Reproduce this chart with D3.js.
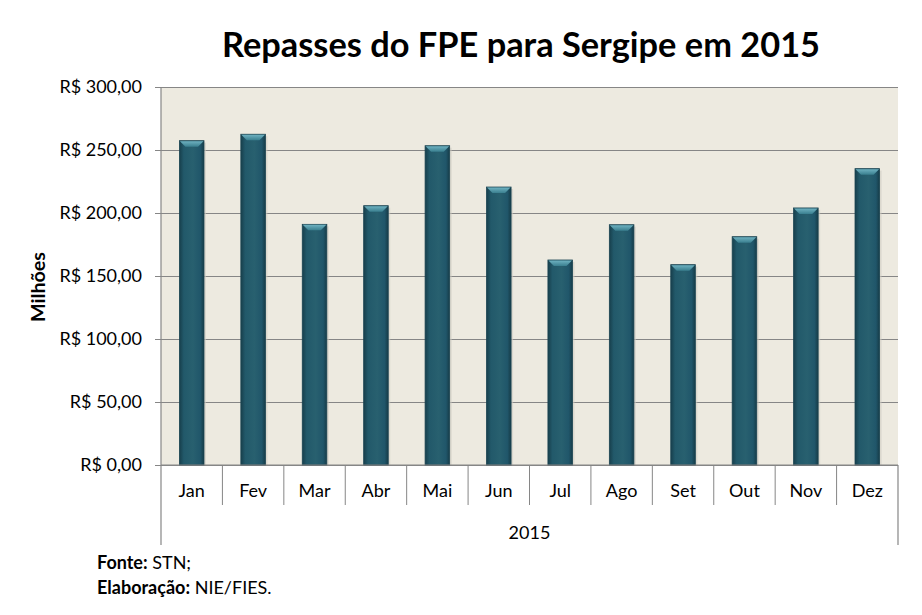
<!DOCTYPE html>
<html>
<head>
<meta charset="utf-8">
<script src="https://cdn.jsdelivr.net/npm/d3@7"></script>
<style>
  body { margin: 0; background: #fff; }
  text { font-family: Lato, "Open Sans", sans-serif; fill: #000; }
</style>
</head>
<body>
<div id="chart"></div>
<script>
// data (R$ millions)
var months = ["Jan", "Fev", "Mar", "Abr", "Mai", "Jun", "Jul", "Ago", "Set", "Out", "Nov", "Dez"];
var values = [257.4, 262.5, 191, 205.8, 253.4, 220.6, 162.7, 190.7, 159, 181.2, 204, 235.2];
var yTicks = [0, 50, 100, 150, 200, 250, 300];
var yTickLabels = ["R$ 0,00", "R$ 50,00", "R$ 100,00", "R$ 150,00", "R$ 200,00", "R$ 250,00", "R$ 300,00"];
var groupLabel = "2015";

var W = 922, H = 615,
    margin = {top: 87, right: 24, bottom: 150, left: 161},
    width = W - margin.left - margin.right,
    height = H - margin.top - margin.bottom;

var svg = d3.select("#chart").append("svg")
    .attr("width", W)
    .attr("height", H);

var defs = svg.append("defs");
var body = defs.append("linearGradient").attr("id", "barBody")
    .attr("x1", "0%").attr("x2", "100%").attr("y1", "0%").attr("y2", "0%");
body.append("stop").attr("offset", "0%").attr("stop-color", "#173f4c");
body.append("stop").attr("offset", "18%").attr("stop-color", "#22596a");
body.append("stop").attr("offset", "55%").attr("stop-color", "#28606f");
body.append("stop").attr("offset", "85%").attr("stop-color", "#20566a");
body.append("stop").attr("offset", "100%").attr("stop-color", "#163c48");

var cap = defs.append("linearGradient").attr("id", "barCap")
    .attr("x1", "0%").attr("x2", "0%").attr("y1", "0%").attr("y2", "100%");
cap.append("stop").attr("offset", "0%").attr("stop-color", "#6fb2c1");
cap.append("stop").attr("offset", "100%").attr("stop-color", "#3a7f8f");

var g = svg.append("g")
    .attr("transform", "translate(" + margin.left + "," + margin.top + ")");

var xScale = d3.scaleBand().domain(months).range([0, width]).paddingInner(0.6).paddingOuter(0.3);
var xCat = d3.scaleBand().domain(months).range([0, width]).padding(0);
var yScale = d3.scaleLinear().domain([0, 300]).range([height, 0]);

// plot background
g.append("rect")
    .attr("width", width)
    .attr("height", height)
    .attr("fill", "#edeae0");

// gridlines
g.append("g")
    .attr("class", "grid")
    .call(d3.axisLeft(yScale).tickValues(yTicks).tickSize(-width).tickFormat(""))
    .call(function(s) {
      s.select(".domain").remove();
      s.selectAll("line").attr("stroke", "#868686").attr("stroke-width", 1.2);
    });

// bars
var bar = g.selectAll(".bar")
    .data(values)
    .enter().append("g")
    .attr("class", "bar");

var bw = xScale.bandwidth();

bar.append("rect")
    .attr("x", function(d, i) { return xScale(months[i]) + 2; })
    .attr("y", function(d) { return yScale(d) + 2; })
    .attr("width", bw)
    .attr("height", function(d) { return height - yScale(d) - 2; })
    .attr("fill", "#cfccc2")
    .attr("opacity", 0.6);

bar.append("rect")
    .attr("x", function(d, i) { return xScale(months[i]); })
    .attr("y", function(d) { return yScale(d); })
    .attr("width", bw)
    .attr("height", function(d) { return height - yScale(d); })
    .attr("fill", "url(#barBody)")
    .attr("stroke", "#1a4452")
    .attr("stroke-width", 0.8);

bar.append("polygon")
    .attr("points", function(d, i) {
      var x0 = xScale(months[i]), y0 = yScale(d), c = 6;
      return [[x0 + 0.5, y0 + 0.5], [x0 + bw - 0.5, y0 + 0.5], [x0 + bw - c, y0 + c], [x0 + c, y0 + c]].join(" ");
    })
    .attr("fill", "url(#barCap)");

// y axis
g.append("g")
    .attr("class", "axis axis--y")
    .call(d3.axisLeft(yScale).tickValues(yTicks).tickSize(6).tickPadding(13)
      .tickFormat(function(d, i) { return yTickLabels[i]; }))
    .call(function(s) {
      s.select(".domain").remove();
      s.selectAll("line").attr("stroke", "#868686");
      s.selectAll("text").style("font-size", "18px");
    });

// axis lines: left, right (extended below), bottom, category separators
g.append("line").attr("x1", 0).attr("x2", 0).attr("y1", 0).attr("y2", height + 80)
    .attr("stroke", "#868686").attr("stroke-width", 1.2);
g.append("line").attr("x1", width).attr("x2", width).attr("y1", height).attr("y2", height + 80)
    .attr("stroke", "#868686").attr("stroke-width", 1.2);
g.append("line").attr("x1", 0).attr("x2", width).attr("y1", height).attr("y2", height)
    .attr("stroke", "#868686").attr("stroke-width", 1.2);
g.selectAll(".sep")
    .data(months.slice(1))
    .enter().append("line")
    .attr("class", "sep")
    .attr("x1", function(d) { return xCat(d); })
    .attr("x2", function(d) { return xCat(d); })
    .attr("y1", height)
    .attr("y2", height + 40)
    .attr("stroke", "#868686");

// category labels
g.append("g")
    .attr("class", "axis axis--x")
    .attr("transform", "translate(0," + height + ")")
    .call(d3.axisBottom(xCat).tickSize(0).tickPadding(19))
    .call(function(s) {
      s.select(".domain").remove();
      s.selectAll("text").style("font-size", "18px");
    });

g.append("text")
    .attr("x", width / 2)
    .attr("y", height + 74)
    .attr("text-anchor", "middle")
    .style("font-size", "18px")
    .text(groupLabel);

// title
svg.append("text")
    .attr("x", 521)
    .attr("y", 57)
    .attr("text-anchor", "middle")
    .attr("textLength", 598)
    .attr("lengthAdjust", "spacingAndGlyphs")
    .style("font-size", "35px")
    .style("font-weight", "bold")
    .text("Repasses do FPE para Sergipe em 2015");

// y axis title
svg.append("text")
    .attr("transform", "translate(45," + (margin.top + height / 2 + 46) + ") rotate(-90)")
    .attr("text-anchor", "start")
    .attr("textLength", 70)
    .attr("lengthAdjust", "spacingAndGlyphs")
    .style("font-size", "19px")
    .style("font-weight", "bold")
    .text("Milhões");

// footnote
var f1 = svg.append("text").attr("x", 97).attr("y", 569).style("font-size", "18px");
f1.append("tspan").style("font-weight", "bold").text("Fonte:");
f1.append("tspan").text(" STN;");
var f2 = svg.append("text").attr("x", 97).attr("y", 594).style("font-size", "18px");
f2.append("tspan").style("font-weight", "bold").text("Elaboração:");
f2.append("tspan").text(" NIE/FIES.");
</script>
</body>
</html>
